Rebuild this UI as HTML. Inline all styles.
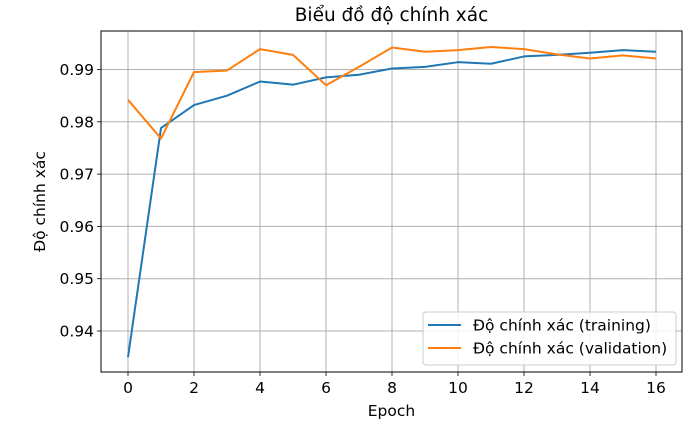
<!DOCTYPE html>
<html><head><meta charset="utf-8"><style>
body{margin:0;background:#fff;}
svg{display:block;font-family:"DejaVu Sans","Liberation Sans",sans-serif;}
</style></head><body>
<svg id="chart" width="694" height="421"></svg>
<script>
const epochs=[0,1,2,3,4,5,6,7,8,9,10,11,12,13,14,15,16];
const trainAcc=[0.935,0.9788,0.9832,0.985,0.9877,0.9871,0.9885,0.989,0.9902,0.9905,0.9914,0.9911,0.9925,0.9928,0.9932,0.9937,0.9934];
const valAcc=[0.9842,0.9768,0.9895,0.9898,0.9939,0.9928,0.987,0.9905,0.9942,0.9934,0.9937,0.9943,0.9939,0.9929,0.9921,0.9927,0.9921];
const xTicks=[0,2,4,6,8,10,12,14,16];
const yTicks=[0.94,0.95,0.96,0.97,0.98,0.99];
const NS="http://www.w3.org/2000/svg";
const svg=document.getElementById('chart');
const L=101,R=682,T=31,B=372;
const xs=v=>128+v*33;
const ys=v=>69.5+(0.99-v)*5230;
function mk(tag,attrs,parent){const e=document.createElementNS(NS,tag);for(const k in attrs)e.setAttribute(k,attrs[k]);(parent||svg).appendChild(e);return e;}
const grid=mk('g',{});


xTicks.forEach(t=>{
  mk('line',{x1:xs(t),x2:xs(t),y1:T,y2:B,stroke:'#b0b0b0','stroke-width':1},grid);
  mk('line',{x1:xs(t),x2:xs(t),y1:B,y2:B+4,stroke:'#000','stroke-width':0.8});
  const tx=mk('text',{x:xs(t),y:B+21,'text-anchor':'middle','font-size':15.5});
  tx.textContent=t;
  
  
});
yTicks.forEach(t=>{
  mk('line',{x1:L,x2:R,y1:ys(t),y2:ys(t),stroke:'#b0b0b0','stroke-width':1},grid);
  mk('line',{x1:L-4,x2:L,y1:ys(t),y2:ys(t),stroke:'#000','stroke-width':0.8});
  const tx=mk('text',{x:L-7,y:ys(t)+5.5,'text-anchor':'end','font-size':15.5});
  tx.textContent=t.toFixed(2);
  
  
});
function series(arr,color,name){
  const p=mk('polyline',{points:arr.map((v,i)=>xs(epochs[i])+','+ys(v)).join(' '),fill:'none',stroke:color,'stroke-width':2,'stroke-linejoin':'round'});
  
  
}
series(trainAcc,'#1f77b4','training-line');
series(valAcc,'#ff7f0e','validation-line');
const frame=mk('rect',{x:L,y:T,width:R-L,height:B-T,fill:'none',stroke:'#000','stroke-width':1});


const title=mk('text',{x:(L+R)/2,y:21,'text-anchor':'middle','font-size':18.5});
title.textContent='Biểu đồ độ chính xác';


const xl=mk('text',{x:(L+R)/2,y:416,'text-anchor':'middle','font-size':15.5});
xl.textContent='Epoch';


const yl=mk('text',{x:0,y:0,'text-anchor':'middle','font-size':15.5,transform:'translate(45,'+((T+B)/2)+') rotate(-90)'});
yl.textContent='Độ chính xác';


const lg=mk('g',{});


mk('rect',{x:423,y:312,width:253,height:53,rx:3,fill:'#fff','fill-opacity':0.85,stroke:'#ccc'},lg);
[['#1f77b4','Độ chính xác (training)',325],['#ff7f0e','Độ chính xác (validation)',348]].forEach(([c,t,y],i)=>{
  mk('line',{x1:428,x2:461,y1:y,y2:y,stroke:c,'stroke-width':2},lg);
  const tx=mk('text',{x:473,y:y+5.5,'font-size':15.5},lg);
  tx.textContent=t;
  
  
});
</script>
</body></html>
